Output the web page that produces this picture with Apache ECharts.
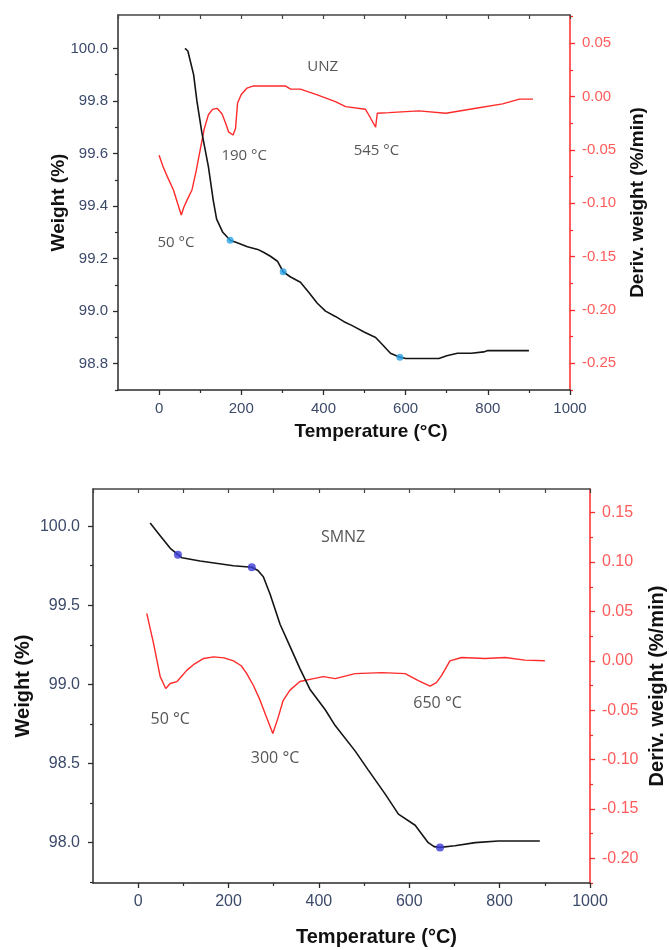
<!DOCTYPE html>
<html>
<head>
<meta charset="utf-8">
<script src="https://cdn.jsdelivr.net/npm/echarts@6/dist/echarts.min.js"></script>
<style>
html,body{margin:0;padding:0;background:#fff;}
#chart{width:669px;height:950px;}
</style>
</head>
<body>
<div id="chart"></div>
<script>
// ---------- DATA ----------
// Temperature ticks
const xMajorTicks = [0, 200, 400, 600, 800, 1000];
const xMinorTicks = [100, 300, 500, 700, 900];

// UNZ (top panel)
const unzWeightT = [63, 70, 84, 92, 104, 120, 132, 140, 155, 173, 190, 215, 240, 254, 270, 288, 302, 320, 344, 365, 385, 405, 429, 450, 470, 500, 527, 545, 563, 586, 600, 640, 681, 700, 726, 760, 790, 800, 850, 900];
const unzWeightW = [100.0, 99.99, 99.90, 99.80, 99.68, 99.55, 99.42, 99.35, 99.30, 99.27, 99.26, 99.245, 99.235, 99.224, 99.21, 99.19, 99.15, 99.13, 99.11, 99.07, 99.03, 99.0, 98.98, 98.96, 98.945, 98.92, 98.90, 98.87, 98.84, 98.825, 98.82, 98.82, 98.82, 98.83, 98.84, 98.84, 98.845, 98.85, 98.85, 98.85];
const unzDerivT = [0, 3, 10, 20, 35, 45, 54, 60, 68, 80, 90, 100, 110, 120, 130, 141, 153, 162, 169, 180, 186, 191, 200, 214, 230, 307, 320, 344, 385, 429, 454, 502, 510, 527, 531, 559, 632, 698, 771, 836, 877, 910];
const unzDerivV = [-0.055, -0.054, -0.066, -0.075, -0.0875, -0.100, -0.111, -0.104, -0.097, -0.0875, -0.070, -0.050, -0.030, -0.017, -0.012, -0.011, -0.016, -0.025, -0.033, -0.036, -0.030, -0.006, 0.002, 0.008, 0.010, 0.010, 0.007, 0.007, 0.0016, -0.0047, -0.0094, -0.0118, -0.017, -0.0287, -0.0156, -0.015, -0.0134, -0.0156, -0.0109, -0.0068, -0.0024, -0.0024];
const unzPointsT = [173, 302, 586];
const unzPointsW = [99.27, 99.15, 98.825];
const unzLeftMajor = [98.8, 99.0, 99.2, 99.4, 99.6, 99.8, 100.0];
const unzLeftMinor = [98.7, 98.9, 99.1, 99.3, 99.5, 99.7, 99.9];
const unzRightMajor = [-0.25, -0.20, -0.15, -0.10, -0.05, 0.00, 0.05];
const unzRightMinor = [-0.275, -0.225, -0.175, -0.125, -0.075, -0.025, 0.025, 0.075];
const unzNotes = [[398, 99.93, 'UNZ'], [207, 99.593, '190 °C'], [529, 99.61, '545 °C'], [41, 99.26, '50 °C']];

// SMNZ (bottom panel)
const smnzWeightT = [26.5, 48.7, 71, 88, 97, 137, 211, 251.5, 265, 277, 292, 314, 336, 358, 380, 414, 436, 480, 509, 546, 576, 613, 642, 655, 668, 701, 746, 797, 889];
const smnzWeightW = [100.02, 99.94, 99.86, 99.82, 99.80, 99.78, 99.75, 99.74, 99.72, 99.68, 99.57, 99.38, 99.24, 99.10, 98.97, 98.84, 98.74, 98.58, 98.46, 98.31, 98.18, 98.11, 98.00, 97.975, 97.97, 97.98, 98.00, 98.01, 98.01];
const smnzDerivT = [19, 34, 48.7, 61, 71, 86, 108, 125, 145, 167, 190, 211, 228, 240, 255, 268, 283, 298, 310, 321, 336, 358, 388, 410, 436, 480, 540, 591, 620, 646, 660, 672, 690, 716, 768, 812, 856, 900];
const smnzDerivV = [0.048, 0.0176, -0.016, -0.028, -0.023, -0.021, -0.0094, -0.003, 0.0024, 0.004, 0.003, 0.0, -0.005, -0.0128, -0.025, -0.038, -0.056, -0.0736, -0.057, -0.040, -0.0297, -0.021, -0.018, -0.016, -0.018, -0.013, -0.012, -0.013, -0.020, -0.0257, -0.022, -0.0145, 0.0, 0.0034, 0.0024, 0.0034, 0.0007, 0.0];
const smnzPointsT = [88, 251.5, 668];
const smnzPointsW = [99.82, 99.74, 97.97];
const smnzLeftMajor = [98.0, 98.5, 99.0, 99.5, 100.0];
const smnzLeftMinor = [97.75, 98.25, 98.75, 99.25, 99.75];
const smnzRightMajor = [-0.20, -0.15, -0.10, -0.05, 0.00, 0.05, 0.10, 0.15];
const smnzRightMinor = [-0.225, -0.175, -0.125, -0.075, -0.025, 0.025, 0.075, 0.125, 0.175];
const smnzNotes = [[453.5, 99.93, 'SMNZ'], [71, 98.78, '50 °C'], [303, 98.53, '300 °C'], [662.6, 98.88, '650 °C']];

// ---------- BUILD ----------
const zip = (a, b) => a.map((v, i) => [v, b[i]]);
const AX = '#2b2b2b', LBL = '#3c4a6a', RED = '#ff2a2a', RLBL = '#ff5c5c';
const FONT = '"Liberation Sans", Arial, sans-serif';
const NOTEFONT = '"Open Sans", "Noto Sans", sans-serif';

function xAxes(gi, labelSize, titleSize, gap, pad) {
  return [
    { gridIndex: gi, type: 'value', position: 'bottom', min: -100, max: 1000,
      name: 'Temperature (°C)', nameLocation: 'middle', nameGap: gap, nameMoveOverlap: false,
      nameTextStyle: { fontFamily: FONT, fontWeight: 'bold', fontSize: titleSize, color: '#111', padding: [0, 0, 0, pad] },
      axisLine: { show: true, onZero: false, lineStyle: { color: AX, width: 1.5 } },
      axisTick: { show: true, customValues: xMajorTicks, length: 5, lineStyle: { color: AX, width: 1.3 } },
      axisLabel: { show: true, customValues: xMajorTicks, margin: 11, color: LBL, fontFamily: FONT, fontSize: labelSize, formatter: v => String(v) },
      splitLine: { show: false } },
    { gridIndex: gi, type: 'value', position: 'bottom', offset: 0, min: -100, max: 1000,
      axisLine: { show: false, onZero: false },
      axisTick: { show: true, customValues: xMinorTicks, length: 3, lineStyle: { color: AX, width: 1.2 } },
      axisLabel: { show: false }, splitLine: { show: false } },
    { gridIndex: gi, type: 'value', position: 'top', min: -100, max: 1000, interval: 100,
      axisLine: { show: true, onZero: false, lineStyle: { color: '#444', width: 1.5 } },
      axisTick: { show: true, inside: true, length: 4, lineStyle: { color: '#444', width: 1.2 } },
      axisLabel: { show: false }, splitLine: { show: false } }
  ];
}

function yAxes(gi, lmin, lmax, lMaj, lMin, lDec, rmin, rmax, rMaj, rMin, labelSize, titleSize, lgap, lmargin, rgap) {
  return [
    { gridIndex: gi, type: 'value', position: 'left', min: lmin, max: lmax,
      name: 'Weight (%)', nameLocation: 'middle', nameGap: lgap, nameMoveOverlap: false,
      nameTextStyle: { fontFamily: FONT, fontWeight: 'bold', fontSize: titleSize, color: '#111' },
      axisLine: { show: true, onZero: false, lineStyle: { color: AX, width: 1.5 } },
      axisTick: { show: true, customValues: lMaj, length: 5, lineStyle: { color: AX, width: 1.3 } },
      axisLabel: { show: true, customValues: lMaj, margin: lmargin, color: LBL, fontFamily: FONT, fontSize: labelSize, formatter: v => v.toFixed(lDec) },
      splitLine: { show: false } },
    { gridIndex: gi, type: 'value', position: 'left', offset: 0, min: lmin, max: lmax,
      axisLine: { show: false, onZero: false },
      axisTick: { show: true, customValues: lMin, length: 3, lineStyle: { color: AX, width: 1.2 } },
      axisLabel: { show: false }, splitLine: { show: false } },
    { gridIndex: gi, type: 'value', position: 'right', min: rmin, max: rmax,
      name: 'Deriv. weight (%/min)', nameLocation: 'middle', nameGap: rgap, nameRotate: 90, nameMoveOverlap: false,
      nameTextStyle: { fontFamily: FONT, fontWeight: 'bold', fontSize: titleSize, color: '#111' },
      axisLine: { show: true, onZero: false, lineStyle: { color: RED, width: 1.5 } },
      axisTick: { show: true, customValues: rMaj, length: 5, lineStyle: { color: RED, width: 1.3 } },
      axisLabel: { show: true, customValues: rMaj, margin: 12, color: RLBL, fontFamily: FONT, fontSize: labelSize, formatter: v => (Math.abs(v) < 1e-9 ? 0 : v).toFixed(2) },
      splitLine: { show: false } },
    { gridIndex: gi, type: 'value', position: 'right', offset: 0, min: rmin, max: rmax,
      axisLine: { show: false, onZero: false },
      axisTick: { show: true, customValues: rMin, length: 3, lineStyle: { color: RED, width: 1.2 } },
      axisLabel: { show: false }, splitLine: { show: false } }
  ];
}

function notes(xi, yi, arr, size) {
  return { type: 'scatter', xAxisIndex: xi, yAxisIndex: yi, symbolSize: 0, silent: true, z: 10,
    data: arr.map(n => ({ value: [n[0], n[1]], name: n[2] })),
    label: { show: true, position: 'inside', formatter: p => p.name, color: '#2a2a2a', fontFamily: NOTEFONT, fontSize: size } };
}

const option = {
  animation: false,
  backgroundColor: '#fff',
  grid: [
    { left: 118, top: 15, width: 452, height: 375, containLabel: false, outerBoundsMode: 'none' },
    { left: 93, top: 489, width: 497, height: 394, containLabel: false, outerBoundsMode: 'none' }
  ],
  xAxis: [...xAxes(0, 15, 19, 32, 54), ...xAxes(1, 16, 20, 44, 70)],
  yAxis: [
    ...yAxes(0, 98.7, 100.127, unzLeftMajor, unzLeftMinor, 1, -0.275, 0.0765, unzRightMajor, unzRightMinor, 15, 19, 50, 10, 58),
    ...yAxes(1, 97.745, 100.235, smnzLeftMajor, smnzLeftMinor, 1, -0.225, 0.174, smnzRightMajor, smnzRightMinor, 16, 20, 60, 13, 57)
  ],
  series: [
    { type: 'line', xAxisIndex: 0, yAxisIndex: 2, data: zip(unzDerivT, unzDerivV), showSymbol: false, lineStyle: { color: RED, width: 1.4 } },
    { type: 'line', xAxisIndex: 0, yAxisIndex: 0, data: zip(unzWeightT, unzWeightW), showSymbol: false, lineStyle: { color: '#151515', width: 1.6 } },
    { type: 'scatter', xAxisIndex: 0, yAxisIndex: 0, data: zip(unzPointsT, unzPointsW), symbolSize: 7, itemStyle: { color: '#2aa4ea' }, z: 5 },
    notes(0, 0, unzNotes, 15),
    { type: 'line', xAxisIndex: 3, yAxisIndex: 6, data: zip(smnzDerivT, smnzDerivV), showSymbol: false, lineStyle: { color: RED, width: 1.4 } },
    { type: 'line', xAxisIndex: 3, yAxisIndex: 4, data: zip(smnzWeightT, smnzWeightW), showSymbol: false, lineStyle: { color: '#151515', width: 1.6 } },
    { type: 'scatter', xAxisIndex: 3, yAxisIndex: 4, data: zip(smnzPointsT, smnzPointsW), symbolSize: 8, itemStyle: { color: '#3b3bd8' }, z: 5 },
    notes(3, 4, smnzNotes, 16)
  ]
};

const chart = echarts.init(document.getElementById('chart'), null, { renderer: 'canvas' });
chart.setOption(option);
</script>
</body>
</html>
